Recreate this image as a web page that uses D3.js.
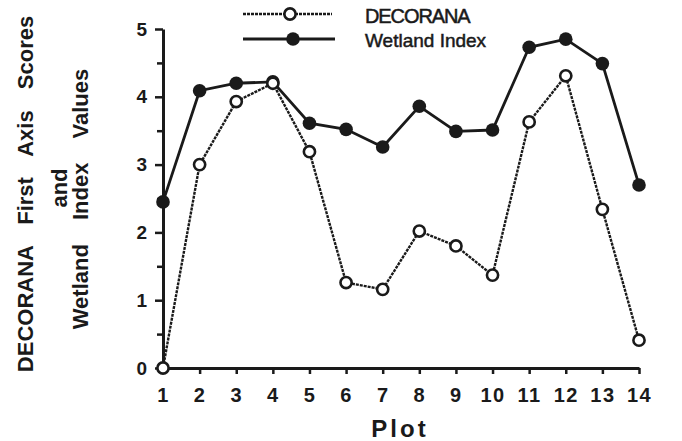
<!DOCTYPE html>
<html><head><meta charset="utf-8">
<script src="https://cdn.jsdelivr.net/npm/d3@7/dist/d3.min.js"></script>
<style>body{margin:0;background:#fff}svg{display:block}text{font-family:"Liberation Sans",Arial,sans-serif;fill:#1a1a1a}</style>
</head><body><svg id="c" width="682" height="441"></svg>
<script>
const plots = [1,2,3,4,5,6,7,8,9,10,11,12,13,14];
const decorana = [0,3.0,3.93,4.2,3.19,1.26,1.16,2.02,1.80,1.37,3.63,4.31,2.34,0.41];
const wetland = [2.45,4.09,4.2,4.22,3.61,3.52,3.26,3.86,3.49,3.51,4.73,4.85,4.49,2.70];
const yTicks = [0,1,2,3,4,5];
const seriesNames = ["DECORANA","Wetland Index"];

const svg = d3.select("#c");
const ink = "#1a1a1a";
const x = d3.scaleLinear().domain([1,14]).range([163,639]);
const y = d3.scaleLinear().domain([0,5]).range([368,29]);

// axes
const xAxis = svg.append("g").attr("transform","translate(0,368)")
  .call(d3.axisBottom(x).tickValues(plots).tickFormat(d3.format("d")).tickSizeInner(6).tickSizeOuter(0).tickPadding(14));
xAxis.select(".domain").attr("stroke",ink).attr("stroke-width",3);
xAxis.selectAll(".tick line").attr("stroke",ink).attr("stroke-width",2.5);
xAxis.selectAll("text").attr("font-size",20).attr("font-weight","bold").attr("letter-spacing",1.5)
  .attr("fill",ink).style("font-family","Liberation Sans, Arial");

const yAxis = svg.append("g").attr("transform","translate(163,0)")
  .call(d3.axisLeft(y).tickValues(d3.range(0,5.01,0.5)).tickFormat(d=> yTicks.includes(d)? d : "").tickSizeInner(8).tickSizeOuter(0).tickPadding(8));
yAxis.select(".domain").attr("stroke",ink).attr("stroke-width",3);
yAxis.selectAll(".tick line").attr("stroke",ink).attr("stroke-width",2.5)
  .attr("x2", d=> Number.isInteger(d)? -8 : -6);
yAxis.selectAll("text").attr("font-size",19).attr("font-weight","bold").attr("fill",ink).style("font-family","Liberation Sans, Arial");

// lines
const line = d3.line().x((d,i)=>x(plots[i])).y(d=>y(d));
svg.append("path").datum(decorana).attr("d",line).attr("fill","none")
  .attr("stroke",ink).attr("stroke-width",2.4).attr("stroke-dasharray","3,1");
svg.append("path").datum(wetland).attr("d",line).attr("fill","none")
  .attr("stroke",ink).attr("stroke-width",2.8);

svg.append("g").selectAll("circle").data(wetland).join("circle")
  .attr("cx",(d,i)=>x(plots[i])).attr("cy",d=>y(d)).attr("r",6.8).attr("fill",ink);
svg.append("g").selectAll("circle").data(decorana).join("circle")
  .attr("cx",(d,i)=>x(plots[i])).attr("cy",d=>y(d)).attr("r",5.6).attr("fill","#fff")
  .attr("stroke",ink).attr("stroke-width",2.6);

// legend
const lg = svg.append("g");
lg.append("line").attr("x1",243).attr("x2",332).attr("y1",14).attr("y2",14).attr("stroke",ink).attr("stroke-width",2.4).attr("stroke-dasharray","3,1");
lg.append("circle").attr("cx",290).attr("cy",14).attr("r",5.6).attr("fill","#fff").attr("stroke",ink).attr("stroke-width",2.6);
lg.append("line").attr("x1",243).attr("x2",335).attr("y1",39).attr("y2",39).attr("stroke",ink).attr("stroke-width",2.8);
lg.append("circle").attr("cx",293).attr("cy",39).attr("r",6.8).attr("fill",ink);
lg.append("text").attr("x",365).attr("y",23).attr("font-size",20).attr("letter-spacing",-1.1)
  .attr("stroke",ink).attr("stroke-width",0.5).text(seriesNames[0]);
lg.append("text").attr("x",365).attr("y",47).attr("font-size",19)
  .attr("stroke",ink).attr("stroke-width",0.5).text(seriesNames[1]);

// axis titles
const yt = [["DECORANA First Axis Scores",33,194,15],["and",67,188,0],["Wetland Index Values",88,199,18]];
yt.forEach(([t,bx,cy,ws])=>{
  svg.append("text").attr("transform",`translate(${bx},${cy}) rotate(-90)`)
    .attr("text-anchor","middle").attr("font-size",22).attr("font-weight","bold")
    .attr("word-spacing",ws).text(t);
});
svg.append("text").attr("x",400).attr("y",437).attr("text-anchor","middle")
  .attr("font-size",24).attr("font-weight","bold").attr("letter-spacing",3).text("Plot");
</script></body></html>
